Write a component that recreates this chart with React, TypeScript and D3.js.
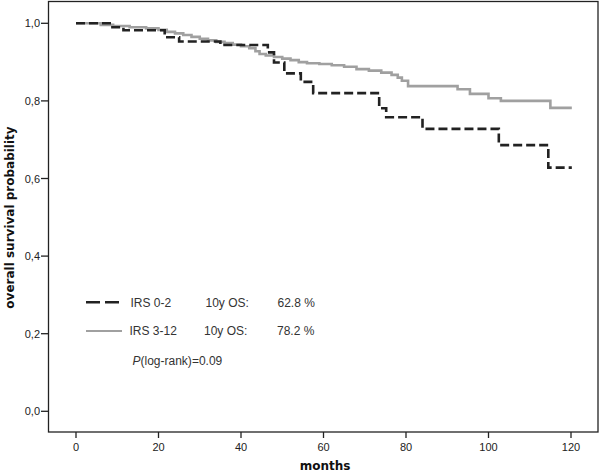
import React from "react";
import * as d3 from "d3";

const irsLowTimes = [0, 8.5, 11.5, 21.5, 25, 35, 46.5, 48, 50.5, 54.5, 57.5, 73.5, 75.2, 84, 102.5, 114.5, 120.2];
const irsLowSurv = [1.0, 0.99, 0.982, 0.964, 0.953, 0.944, 0.925, 0.899, 0.871, 0.849, 0.82, 0.781, 0.758, 0.728, 0.686, 0.628, 0.628];

const irsHighTimes = [0, 6, 9, 13, 17, 20, 22, 24, 26, 28, 30, 32, 34, 36, 38, 40, 42, 43.5, 44.5, 46, 48, 50, 52, 54, 56, 59, 62, 65, 68, 71, 74, 76.5, 78, 79, 80.5, 92.5, 95.5, 100, 103, 115, 120.2];
const irsHighSurv = [1.0, 0.996, 0.993, 0.99, 0.987, 0.983, 0.978, 0.974, 0.97, 0.965, 0.96, 0.956, 0.952, 0.949, 0.945, 0.941, 0.936, 0.928, 0.921, 0.917, 0.913, 0.909, 0.905, 0.9, 0.897, 0.895, 0.892, 0.888, 0.882, 0.878, 0.873, 0.867, 0.86, 0.852, 0.838, 0.83, 0.818, 0.807, 0.8, 0.782, 0.782];

const xTicks = [0, 20, 40, 60, 80, 100, 120];
const yTicks = [0, 0.2, 0.4, 0.6, 0.8, 1.0];

const legendGroups = ["IRS 0-2", "IRS 3-12"];
const legendOS = ["62.8 %", "78.2 %"];
const pValueText = "=0.09";

export default function App() {
  const x = d3.scaleLinear().domain([0, 120]).range([76, 571]);
  const y = d3.scaleLinear().domain([0, 1]).range([411.3, 23.3]);
  const line = d3
    .line<[number, number]>()
    .x((d) => x(d[0]))
    .y((d) => y(d[1]))
    .curve(d3.curveStepAfter);
  const low = irsLowTimes.map((t, i) => [t, irsLowSurv[i]] as [number, number]);
  const high = irsHighTimes.map((t, i) => [t, irsHighSurv[i]] as [number, number]);

  const frame = { left: 48.5, right: 598, top: 1.5, bottom: 432 };
  const tickFont = "'Liberation Sans', Arial, sans-serif";
  const titleFont = "'DejaVu Sans', Verdana, sans-serif";

  return (
    <svg
      width={600}
      height={472}
      style={{ position: "absolute", left: 0, top: 0, display: "block", background: "#fff" }}
    >
      <rect x={0} y={0} width={600} height={472} fill="#fff" />
      <rect
        x={frame.left}
        y={frame.top}
        width={frame.right - frame.left}
        height={frame.bottom - frame.top}
        fill="none"
        stroke="#222"
        strokeWidth={1.3}
      />
      {yTicks.map((v) => (
        <g key={"y" + v}>
          <line x1={41} x2={frame.left} y1={y(v)} y2={y(v)} stroke="#222" strokeWidth={1.3} />
          <text
            x={40}
            y={y(v) + 4}
            textAnchor="end"
            fontFamily={tickFont}
            fontSize={11}
            fill="#222"
          >
            {v.toFixed(1).replace(".", ",")}
          </text>
        </g>
      ))}
      {xTicks.map((v) => (
        <g key={"x" + v}>
          <line x1={x(v)} x2={x(v)} y1={frame.bottom} y2={frame.bottom + 6} stroke="#222" strokeWidth={1.3} />
          <text
            x={x(v)}
            y={451}
            textAnchor="middle"
            fontFamily={tickFont}
            fontSize={11}
            fill="#222"
          >
            {v}
          </text>
        </g>
      ))}
      <text
        x={325}
        y={470}
        textAnchor="middle"
        fontFamily={titleFont}
        fontWeight="bold"
        fontSize={12}
        fill="#111"
      >
        months
      </text>
      <text
        transform="translate(14,217.5) rotate(-90)"
        textAnchor="middle"
        fontFamily={titleFont}
        fontWeight="bold"
        fontSize={12}
        fill="#111"
      >
        overall survival probability
      </text>

      <path d={line(high) || ""} fill="none" stroke="#a0a0a0" strokeWidth={2.6} />
      <path
        d={line(low) || ""}
        fill="none"
        stroke="#222"
        strokeWidth={2.6}
        strokeDasharray="9,4"
      />

      <g fontFamily={tickFont} fontSize={12} fill="#333">
        <line x1={86} x2={120} y1={302.3} y2={302.3} stroke="#222" strokeWidth={2.6} strokeDasharray="14,5" />
        <text x={130.5} y={306.5}>{legendGroups[0]}</text>
        <text x={205.5} y={306.5}>10y OS:</text>
        <text x={277.5} y={306.5}>{legendOS[0]}</text>
        <line x1={86} x2={122} y1={331} y2={331} stroke="#a0a0a0" strokeWidth={2} />
        <text x={129.5} y={335}>{legendGroups[1]}</text>
        <text x={204} y={335}>10y OS:</text>
        <text x={277} y={335}>{legendOS[1]}</text>
        <text x={132.5} y={365}>
          <tspan fontStyle="italic">P</tspan>
          <tspan>(log-rank){pValueText}</tspan>
        </text>
      </g>
    </svg>
  );
}
